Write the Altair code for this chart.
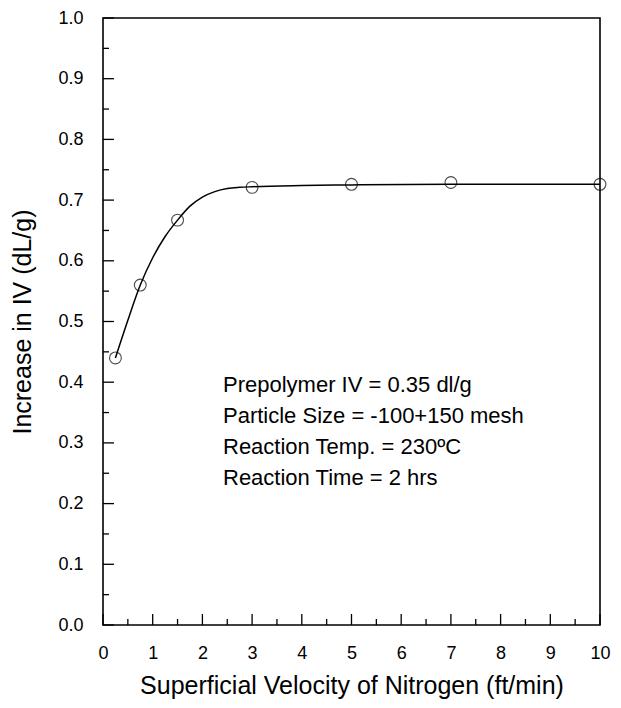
import altair as alt
import pandas as pd

# measured points
vel = [0.25, 0.75, 1.5, 3.0, 5.0, 7.0, 10.0]
iv = [0.440, 0.560, 0.667, 0.721, 0.726, 0.729, 0.726]

# smooth fitted curve
curve_x = [0.25, 0.5, 0.75, 1.0, 1.25, 1.5, 1.75, 2.0, 2.25, 2.5, 2.75, 3.0, 4.0, 5.0, 7.0, 10.0]
curve_y = [0.440, 0.502, 0.560, 0.605, 0.640, 0.667, 0.690, 0.705, 0.714, 0.719, 0.721, 0.722, 0.724, 0.725, 0.726, 0.726]

x_major = [0, 1, 2, 3, 4, 5, 6, 7, 8, 9, 10]
x_minor = [0.5, 1.5, 2.5, 3.5, 4.5, 5.5, 6.5, 7.5, 8.5, 9.5]
y_major = [0.0, 0.1, 0.2, 0.3, 0.4, 0.5, 0.6, 0.7, 0.8, 0.9, 1.0]
y_minor = [0.05, 0.15, 0.25, 0.35, 0.45, 0.55, 0.65, 0.75, 0.85, 0.95]

notes = ["Prepolymer IV = 0.35 dl/g",
         "Particle Size = -100+150 mesh",
         "Reaction Temp. = 230\u00baC",
         "Reaction Time = 2 hrs"]

W, H = 497, 607
TOP = 10
FONT = "Liberation Sans"

xs = alt.Scale(domain=[0, 10], nice=False)
ys = alt.Scale(domain=[0, 1], nice=False)

pts = pd.DataFrame({"x": vel, "y": iv})
crv = pd.DataFrame({"x": curve_x, "y": curve_y})

xaxis = alt.Axis(values=x_major, format="d", grid=False, domain=False, ticks=False,
                 labelFont=FONT, labelFontSize=18, labelColor="black", labelPadding=19,
                 labelFlush=False,
                 title="Superficial Velocity of Nitrogen (ft/min)", titleFont=FONT,
                 titleFontSize=25, titleFontWeight="normal", titleColor="black", titlePadding=11)
yaxis = alt.Axis(values=y_major, format=".1f", grid=False, domain=False, ticks=False,
                 labelFont=FONT, labelFontSize=18, labelColor="black", labelPadding=20,
                 labelFlush=False,
                 title="Increase in IV (dL/g)", titleFont=FONT,
                 titleFontSize=25, titleFontWeight="normal", titleColor="black", titlePadding=22)

line = alt.Chart(crv).mark_line(color="black", strokeWidth=1.5, interpolate="monotone").encode(
    x=alt.X("x:Q", scale=xs, axis=xaxis),
    y=alt.Y("y:Q", scale=ys, axis=yaxis),
)
points = alt.Chart(pts).mark_point(shape="circle", filled=False, color="black", size=140, strokeWidth=1.1).encode(
    x=alt.X("x:Q", scale=xs), y=alt.Y("y:Q", scale=ys)
)

def xticks(vals, length):
    return alt.Chart(pd.DataFrame({"x": vals})).mark_rule(color="black", strokeWidth=1.3).encode(
        x=alt.X("x:Q", scale=xs), y=alt.value(H), y2=alt.value(H - length))

def yticks(vals, length):
    return alt.Chart(pd.DataFrame({"y": vals})).mark_rule(color="black", strokeWidth=1.3).encode(
        y=alt.Y("y:Q", scale=ys), x=alt.value(0), x2=alt.value(length))

text = alt.Chart(pd.DataFrame({"a": [0]})).mark_text(
    text=notes, align="left", baseline="alphabetic", font=FONT, fontSize=22,
    lineHeight=31, color="black").encode(x=alt.value(120), y=alt.value(392 - 8 - TOP))

chart = alt.layer(
    xticks(x_major, 11), xticks(x_minor, 6), yticks(y_major, 11), yticks(y_minor, 6),
    line, points, text
).properties(
    width=W, height=H,
    autosize=alt.AutoSizeParams(type="none"),
    padding={"left": 95, "top": TOP, "right": 13, "bottom": 692 - TOP - H},
).configure_view(stroke="black", strokeWidth=1.6)

chart.save("out.html", embed_options={"renderer": "svg", "actions": False})
